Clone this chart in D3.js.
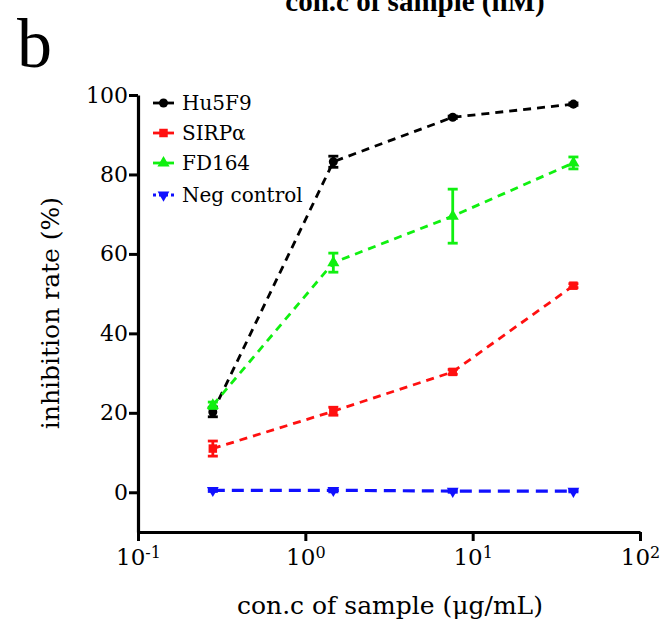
<!DOCTYPE html>
<html>
<head>
<meta charset="utf-8">
<script src="https://cdn.jsdelivr.net/npm/d3@7"></script>
<style>
  body { margin: 0; background: #fff; }
  svg { display: block; }
</style>
</head>
<body>
<div id="chart"></div>
<script>
// concentrations (µg/mL) and inhibition rates (%)
const conc = [0.28, 1.47, 7.6, 40]
const seriesNames = ["Hu5F9", "SIRP\u03b1", "FD164", "Neg control"]
const hu5f9 = [20.2, 83.2, 94.4, 97.7]
const hu5f9Err = [1.2, 1.4, 0.3, 0.3]
const sirpa = [11.0, 20.4, 30.3, 52.0]
const sirpaErr = [1.9, 1.0, 0.6, 0.5]
const fd164 = [21.9, 57.8, 69.5, 82.9]
const fd164Err = [0.8, 2.4, 6.8, 1.5]
const negctl = [0.5, 0.5, 0.3, 0.3]
const negctlErr = [0.3, 0.4, 0.3, 0.2]
const xTicks = [0.1, 1, 10, 100]
const yTicks = [0, 20, 40, 60, 80, 100]

const colors = ["#000000", "#ff1010", "#10f010", "#1010ff"]
const symbols = [d3.symbolCircle, d3.symbolSquare, d3.symbolTriangle, "down"]

const width = 661, height = 631
const margin = { top: 95, right: 21, bottom: 99, left: 138 }
const font = "'Palatino Linotype', 'Book Antiqua', 'DejaVu Serif', serif"

const svg = d3.select("#chart").append("svg")
    .attr("width", width)
    .attr("height", height)

const x = d3.scaleLog().domain([0.1, 100]).range([margin.left, width - margin.right])
const y = d3.scaleLinear().domain([-10, 100]).range([height - margin.bottom, margin.top])

// panel letter and cut-off title
svg.append("text")
    .attr("x", 17).attr("y", 67)
    .attr("font-family", "'Liberation Serif', serif")
    .attr("font-size", 70)
    .text("b")

svg.append("text")
    .attr("x", 415).attr("y", 11)
    .attr("text-anchor", "middle")
    .attr("font-family", "'Liberation Serif', serif")
    .attr("font-weight", "bold")
    .attr("font-size", 29)
    .text("con.c of sample (nM)")

// axes
const yAxis = d3.axisLeft(y).tickValues(yTicks).tickSize(9).tickSizeOuter(0)
const yg = svg.append("g")
    .attr("transform", `translate(${margin.left},0)`)
    .call(yAxis)
yg.select(".domain").attr("stroke-width", 3.2)
yg.selectAll(".tick line").attr("stroke-width", 3)
yg.selectAll(".tick text")
    .attr("font-family", font)
    .attr("font-size", 22)
    .attr("fill", "#000")
    .attr("x", -10)

const xAxis = d3.axisBottom(x).tickValues(xTicks).tickSize(9).tickSizeOuter(0)
const xg = svg.append("g")
    .attr("transform", `translate(0,${height - margin.bottom})`)
    .call(xAxis)
xg.select(".domain").attr("stroke-width", 3.2)
xg.selectAll(".tick line").attr("stroke-width", 3)
xg.selectAll(".tick text")
    .attr("font-family", font)
    .attr("font-size", 23)
    .attr("fill", "#000")
    .attr("y", 17)
    .each(function (d) {
        const t = d3.select(this)
        t.text("10")
        t.append("tspan")
            .attr("dy", "-0.45em")
            .attr("font-size", 16)
            .text(Math.round(Math.log10(d)))
    })

// axis labels
svg.append("text")
    .attr("x", 390).attr("y", 614)
    .attr("text-anchor", "middle")
    .attr("font-family", font)
    .attr("font-size", 25)
    .text("con.c of sample (\u03bcg/mL)")

svg.append("text")
    .attr("transform", "translate(59,313) rotate(-90)")
    .attr("text-anchor", "middle")
    .attr("font-family", font)
    .attr("font-size", 25)
    .text("inhibition rate (%)")

// series
const series = [
    { name: seriesNames[0], vals: hu5f9, err: hu5f9Err },
    { name: seriesNames[1], vals: sirpa, err: sirpaErr },
    { name: seriesNames[2], vals: fd164, err: fd164Err },
    { name: seriesNames[3], vals: negctl, err: negctlErr }
]

function marker(sel, i, cx, cy) {
    if (symbols[i] === "down") {
        sel.append("path")
            .attr("d", d3.symbol().type(d3.symbolTriangle).size(60)())
            .attr("transform", `translate(${cx},${cy}) rotate(180)`)
            .attr("fill", colors[i])
    } else {
        const sz = i === 1 ? 72 : 64
        sel.append("path")
            .attr("d", d3.symbol().type(symbols[i]).size(sz)())
            .attr("transform", `translate(${cx},${cy})`)
            .attr("fill", colors[i])
    }
}

const line = d3.line().x(d => x(d[0])).y(d => y(d[1]))

series.forEach((s, i) => {
    const g = svg.append("g")
    const pts = conc.map((c, j) => [c, s.vals[j]])
    g.append("path")
        .datum(pts)
        .attr("d", line)
        .attr("fill", "none")
        .attr("stroke", colors[i])
        .attr("stroke-width", i === 3 ? 3.2 : 2.8)
        .attr("stroke-dasharray", i === 3 ? "12,7" : "8,6")

    conc.forEach((c, j) => {
        const cx = x(c), v = s.vals[j], e = s.err[j]
        g.append("line")
            .attr("x1", cx).attr("x2", cx)
            .attr("y1", y(v - e)).attr("y2", y(v + e))
            .attr("stroke", colors[i]).attr("stroke-width", 2.8)
        ;[v - e, v + e].forEach(w => {
            g.append("line")
                .attr("x1", cx - 5).attr("x2", cx + 5)
                .attr("y1", y(w)).attr("y2", y(w))
                .attr("stroke", colors[i]).attr("stroke-width", 2.8)
        })
        marker(g, i, cx, y(v))
    })
})

// legend
const legendY = [103, 133, 163, 195]
series.forEach((s, i) => {
    const g = svg.append("g")
    const ly = legendY[i]
    g.append("line")
        .attr("x1", 153).attr("x2", 174)
        .attr("y1", ly).attr("y2", ly)
        .attr("stroke", colors[i])
        .attr("stroke-width", 2.8)
        .attr("stroke-dasharray", i === 3 ? "3,3" : null)
    marker(g, i, 163.5, ly)
    g.append("text")
        .attr("x", 182).attr("y", ly + 7)
        .attr("font-family", font)
        .attr("font-size", 20)
        .text(s.name)
})
</script>
</body>
</html>
